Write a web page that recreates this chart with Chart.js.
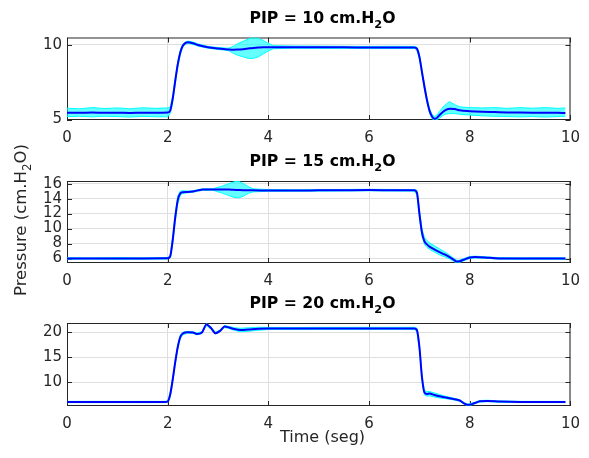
<!DOCTYPE html>
<html>
<head>
<meta charset="utf-8">
<script src="https://cdn.jsdelivr.net/npm/chart.js@4.4.0/dist/chart.umd.min.js"></script>
<style>
  html, body { margin: 0; padding: 0; background: #fff; }
  #wrap { position: relative; width: 589px; height: 458px; }
  #wrap canvas { position: absolute; left: 0; top: 0; }
</style>
</head>
<body>
<div id="wrap">
  <canvas id="pip10" width="589" height="458"></canvas>
  <canvas id="pip15" width="589" height="458"></canvas>
  <canvas id="pip20" width="589" height="458"></canvas>
</div>
<script>
// Shared axis ticks
const xTicks = [0, 2, 4, 6, 8, 10];

// PIP = 10 cm.H2O  (time in s, pressure in cm.H2O)
const time10 = [0, 0.25, 0.5, 0.75, 1, 1.25, 1.5, 1.75,
  2.0, 2.05, 2.1, 2.15, 2.2, 2.25, 2.3, 2.35, 2.4,
  2.5, 2.6, 2.8, 3.0, 3.2,
  3.3, 3.4, 3.5, 3.6, 3.7, 3.8, 3.9, 4.0, 4.1,
  4.5, 5, 5.5, 6, 6.5, 6.9,
  6.95, 7.0, 7.05, 7.1, 7.15, 7.2, 7.25, 7.3, 7.35, 7.4,
  7.5, 7.6, 7.7, 7.8,
  8.0, 8.25, 8.5, 8.75, 9, 9.25, 9.5, 9.75, 9.9];
const filtered10 = [5.46, 5.45, 5.47, 5.45, 5.46, 5.44, 5.46, 5.45,
  5.47, 5.6, 6.4, 7.6, 8.7, 9.5, 9.95, 10.12, 10.18,
  10.12, 10.0, 9.84, 9.76, 9.7,
  9.68, 9.69, 9.72, 9.76, 9.8, 9.83, 9.85, 9.85, 9.85,
  9.85, 9.84, 9.84, 9.83, 9.83, 9.83,
  9.75, 9.2, 8.2, 7.2, 6.3, 5.6, 5.2, 5.05, 5.12, 5.3,
  5.6, 5.72, 5.7, 5.62,
  5.56, 5.52, 5.5, 5.48, 5.47, 5.46, 5.45, 5.45, 5.44];
const rawHigh10 = [5.76, 5.72, 5.8, 5.74, 5.78, 5.72, 5.79, 5.75,
  5.78, 5.85, 6.6, 7.8, 8.9, 9.65, 10.05, 10.2, 10.26,
  10.2, 10.07, 9.9, 9.83, 9.78,
  9.9, 10.1, 10.25, 10.4, 10.5, 10.45, 10.3, 10.1, 9.95,
  9.93, 9.92, 9.91, 9.9, 9.91, 9.9,
  9.85, 9.35, 8.35, 7.35, 6.45, 5.75, 5.35, 5.2, 5.3, 5.55,
  5.95, 6.2, 6.0, 5.85,
  5.8, 5.78, 5.8, 5.75, 5.8, 5.76, 5.8, 5.75, 5.78];
const rawLow10 = [5.2, 5.22, 5.18, 5.22, 5.2, 5.17, 5.21, 5.19,
  5.18, 5.4, 6.2, 7.4, 8.5, 9.35, 9.85, 10.04, 10.1,
  10.04, 9.93, 9.78, 9.7, 9.63,
  9.45, 9.3, 9.2, 9.1, 9.1, 9.2, 9.4, 9.6, 9.75,
  9.78, 9.77, 9.77, 9.76, 9.76, 9.76,
  9.65, 9.05, 8.05, 7.05, 6.15, 5.45, 5.05, 4.98, 5.0, 5.1,
  5.35, 5.4, 5.4, 5.35,
  5.3, 5.25, 5.22, 5.2, 5.18, 5.2, 5.17, 5.2, 5.22];
const yTicks10 = [5, 10];

// PIP = 15 cm.H2O
const time15 = [0, 0.5, 1, 1.5,
  2.0, 2.05, 2.1, 2.15, 2.2, 2.25, 2.3,
  2.4, 2.5, 2.6, 2.7, 2.9,
  3.0, 3.1, 3.2, 3.3, 3.4, 3.5, 3.6, 3.7,
  4.0, 4.5, 5, 5.5, 6, 6.5, 6.9,
  6.95, 7.0, 7.05, 7.1, 7.15, 7.2,
  7.3, 7.4, 7.5, 7.6, 7.7, 7.75, 7.8, 7.9,
  8.0, 8.1, 8.3, 8.5, 9, 9.5, 9.9];
const filtered15 = [6.02, 6.01, 6.02, 6.01,
  6.04, 6.3, 8.5, 11.5, 13.8, 14.7, 14.85,
  14.88, 14.95, 15.1, 15.2, 15.22,
  15.22, 15.2, 15.2, 15.18, 15.15, 15.12, 15.1, 15.1,
  15.08, 15.08, 15.1, 15.12, 15.14, 15.12, 15.1,
  14.8, 12.0, 9.5, 8.3, 7.9, 7.6,
  7.2, 6.85, 6.55, 6.2, 5.75, 5.6, 5.65, 5.9,
  6.15, 6.2, 6.15, 6.05, 6.0, 6.0, 6.0];
const rawHigh15 = [6.12, 6.1, 6.13, 6.11,
  6.14, 6.5, 8.9, 12.0, 14.3, 15.0, 15.05,
  15.0, 15.05, 15.2, 15.3, 15.32,
  15.5, 15.7, 15.95, 16.2, 16.35, 16.0, 15.6, 15.3,
  15.2, 15.18, 15.2, 15.22, 15.24, 15.22, 15.2,
  15.1, 12.5, 10.0, 8.8, 8.4, 8.1,
  7.7, 7.3, 6.9, 6.45, 5.95, 5.75, 5.8, 6.05,
  6.28, 6.32, 6.25, 6.15, 6.1, 6.12, 6.1];
const rawLow15 = [5.92, 5.93, 5.91, 5.92,
  5.94, 6.1, 8.0, 11.0, 13.3, 14.4, 14.7,
  14.78, 14.85, 15.0, 15.1, 15.12,
  14.9, 14.7, 14.45, 14.2, 14.1, 14.3, 14.7, 14.9,
  14.98, 14.98, 15.0, 15.02, 15.04, 15.02, 15.0,
  14.5, 11.5, 9.0, 7.9, 7.5, 7.25,
  6.85, 6.5, 6.25, 5.95, 5.55, 5.45, 5.5, 5.75,
  6.02, 6.08, 6.05, 5.95, 5.9, 5.9, 5.9];
const yTicks15 = [6, 8, 10, 12, 14, 16];

// PIP = 20 cm.H2O
const time20 = [0, 0.5, 1, 1.5, 1.95,
  2.0, 2.05, 2.1, 2.15, 2.2, 2.25, 2.3,
  2.4, 2.5, 2.58, 2.68, 2.77, 2.86, 2.95,
  3.05, 3.13, 3.22, 3.32, 3.45, 3.6, 3.8,
  4.0, 4.5, 5, 5.5, 6, 6.5, 6.9,
  6.95, 7.0, 7.05, 7.1, 7.15, 7.2,
  7.3, 7.4, 7.5, 7.6, 7.7, 7.8,
  7.9, 7.95, 8.0, 8.1, 8.2, 8.35,
  8.6, 9, 9.5, 9.9];
const filtered20 = [6.0, 6.0, 6.0, 6.0, 6.0,
  6.1, 7.5, 10.5, 14.0, 17.0, 19.0, 19.7,
  19.95, 19.9, 19.6, 19.9, 21.5, 20.8, 19.75,
  20.3, 21.1, 20.9, 20.6, 20.4, 20.5, 20.65,
  20.7, 20.7, 20.72, 20.72, 20.72, 20.72, 20.72,
  20.4, 17.0, 11.0, 7.9, 7.6, 7.7,
  7.4, 7.15, 6.95, 6.75, 6.55, 6.3,
  5.65, 5.45, 5.45, 5.8, 6.15, 6.22,
  6.08, 6.0, 6.0, 6.0];
const rawHigh20 = [6.12, 6.13, 6.12, 6.13, 6.12,
  6.25, 7.9, 10.9, 14.4, 17.4, 19.35, 19.95,
  20.12, 20.07, 19.78, 20.08, 21.7, 21.0, 19.93,
  20.48, 21.3, 21.1, 20.85, 20.75, 20.85, 20.95,
  20.92, 20.9, 20.92, 20.92, 20.93, 20.92, 20.93,
  20.8, 17.5, 11.5, 8.4, 8.05, 8.1,
  7.8, 7.5, 7.2, 6.95, 6.72, 6.45,
  5.82, 5.6, 5.65, 5.95, 6.3, 6.35,
  6.2, 6.13, 6.12, 6.12];
const rawLow20 = [5.88, 5.87, 5.88, 5.87, 5.88,
  5.95, 7.1, 10.1, 13.6, 16.6, 18.65, 19.45,
  19.78, 19.73, 19.42, 19.72, 21.3, 20.6, 19.57,
  20.12, 20.9, 20.7, 20.35, 20.05, 20.15, 20.35,
  20.5, 20.5, 20.52, 20.52, 20.51, 20.52, 20.51,
  20.0, 16.5, 10.5, 7.45, 7.15, 7.25,
  7.0, 6.8, 6.7, 6.55, 6.38, 6.15,
  5.5, 5.3, 5.3, 5.65, 6.0, 6.08,
  5.95, 5.88, 5.88, 5.88];
const yTicks20 = [10, 15, 20];

// Layout (page pixels)
const PAGE_W = 589, PAGE_H = 458;
const BOX_LEFT = 67, BOX_RIGHT = 578;
const FONT = '"DejaVu Sans", sans-serif';
const INK = '#262626';

function pts(t, v) {
    return t.map((x, i) => ({ x: x, y: v[i] }));
}

// Text with subscript pieces, centred on x
function drawRich(ctx, parts, x, y, size, weight) {
    const fontFor = sub => `${weight} ${sub ? size * 0.72 : size}px ${FONT}`;
    let total = 0;
    parts.forEach(([t, sub]) => { ctx.font = fontFor(sub); total += ctx.measureText(t).width; });
    let cx = x - total / 2;
    ctx.textAlign = 'left';
    ctx.textBaseline = 'alphabetic';
    parts.forEach(([t, sub]) => {
        ctx.font = fontFor(sub);
        ctx.fillText(t, cx, sub ? y + size * 0.32 : y);
        cx += ctx.measureText(t).width;
    });
}

// MATLAB style box with inward ticks
const boxPlugin = {
    id: 'matlabBox',
    beforeDatasetsDraw(chart) {
        const { ctx, chartArea: a, scales } = chart;
        const tl = 5;
        ctx.save();
        ctx.strokeStyle = INK;
        ctx.lineWidth = 1;
        ctx.beginPath();
        ctx.rect(a.left + 0.5, a.top + 0.5, a.right - a.left - 1, a.bottom - a.top - 1);
        scales.x.ticks.forEach(t => {
            const px = Math.round(scales.x.getPixelForValue(t.value)) + 0.5;
            ctx.moveTo(px, a.bottom); ctx.lineTo(px, a.bottom - tl);
            ctx.moveTo(px, a.top); ctx.lineTo(px, a.top + tl);
        });
        scales.y.ticks.forEach(t => {
            const py = Math.round(scales.y.getPixelForValue(t.value)) + 0.5;
            ctx.moveTo(a.left, py); ctx.lineTo(a.left + tl, py);
            ctx.moveTo(a.right, py); ctx.lineTo(a.right - tl, py);
        });
        ctx.stroke();
        ctx.restore();
    }
};

// Titles and axis labels
const textPlugin = {
    id: 'panelText',
    afterDraw(chart) {
        const p = chart.options.plugins.panelText;
        const ctx = chart.ctx;
        const cx = (BOX_LEFT + BOX_RIGHT) / 2;
        ctx.save();
        ctx.fillStyle = '#000';
        drawRich(ctx, p.title, cx, p.top - 15, 15.7, 'bold');
        ctx.fillStyle = INK;
        if (p.xLabel) {
            drawRich(ctx, p.xLabel, cx, 442, 16, 'normal');
        }
        if (p.yLabel) {
            ctx.translate(26, 220);
            ctx.rotate(-Math.PI / 2);
            drawRich(ctx, p.yLabel, 0, 0, 16.5, 'normal');
        }
        ctx.restore();
    }
};

function buildPanel(id, p) {
    const gridStyle = { color: '#dfdfdf', lineWidth: 1, drawTicks: false };
    const tickStyle = { color: INK, font: { family: FONT, size: 15 }, autoSkip: false };
    return new Chart(document.getElementById(id), {
        type: 'line',
        data: {
            datasets: [
                {
                    data: pts(p.time, p.filtered),
                    borderColor: 'rgb(0, 0, 255)',
                    borderWidth: 2,
                    pointRadius: 0,
                    cubicInterpolationMode: 'monotone',
                    fill: false
                },
                {
                    data: pts(p.time, p.high),
                    borderColor: 'rgb(0, 255, 255)',
                    backgroundColor: 'rgba(0, 255, 255, 0.6)',
                    borderWidth: 1,
                    pointRadius: 0,
                    fill: '+1'
                },
                {
                    data: pts(p.time, p.low),
                    borderColor: 'rgb(0, 255, 255)',
                    borderWidth: 1,
                    pointRadius: 0,
                    fill: false
                }
            ]
        },
        options: {
            responsive: false,
            animation: false,
            devicePixelRatio: 1,
            layout: { padding: { left: 0, right: PAGE_W - BOX_RIGHT, top: p.top, bottom: 0 } },
            plugins: {
                legend: { display: false },
                tooltip: { enabled: false },
                panelText: { title: p.title, top: p.top, xLabel: p.xLabel, yLabel: p.yLabel }
            },
            scales: {
                x: {
                    type: 'linear',
                    min: 0,
                    max: 10,
                    afterBuildTicks: s => { s.ticks = xTicks.map(v => ({ value: v })); },
                    afterFit: s => { s.height = PAGE_H - p.bottom; },
                    grid: gridStyle,
                    border: { display: false },
                    ticks: { ...tickStyle, padding: 9, maxRotation: 0 }
                },
                y: {
                    min: p.yMin,
                    max: p.yMax,
                    afterBuildTicks: s => { s.ticks = p.yTicks.map(v => ({ value: v })); },
                    afterFit: s => { s.width = BOX_LEFT; },
                    grid: gridStyle,
                    border: { display: false },
                    ticks: { ...tickStyle, padding: 5 }
                }
            }
        },
        plugins: [boxPlugin, textPlugin]
    });
}

buildPanel('pip10', {
    time: time10, filtered: filtered10, high: rawHigh10, low: rawLow10,
    yMin: 4.97, yMax: 10.5, yTicks: yTicks10, top: 37.5, bottom: 120,
    title: [['PIP = 10 cm.H', false], ['2', true], ['O', false]]
});
buildPanel('pip15', {
    time: time15, filtered: filtered15, high: rawHigh15, low: rawLow15,
    yMin: 5.41, yMax: 16.35, yTicks: yTicks15, top: 181, bottom: 263,
    title: [['PIP = 15 cm.H', false], ['2', true], ['O', false]],
    yLabel: [['Pressure (cm.H', false], ['2', true], ['O)', false]]
});
buildPanel('pip20', {
    time: time20, filtered: filtered20, high: rawHigh20, low: rawLow20,
    yMin: 5.2, yMax: 21.8, yTicks: yTicks20, top: 323, bottom: 406,
    title: [['PIP = 20 cm.H', false], ['2', true], ['O', false]],
    xLabel: [['Time (seg)', false]]
});
</script>
</body>
</html>
